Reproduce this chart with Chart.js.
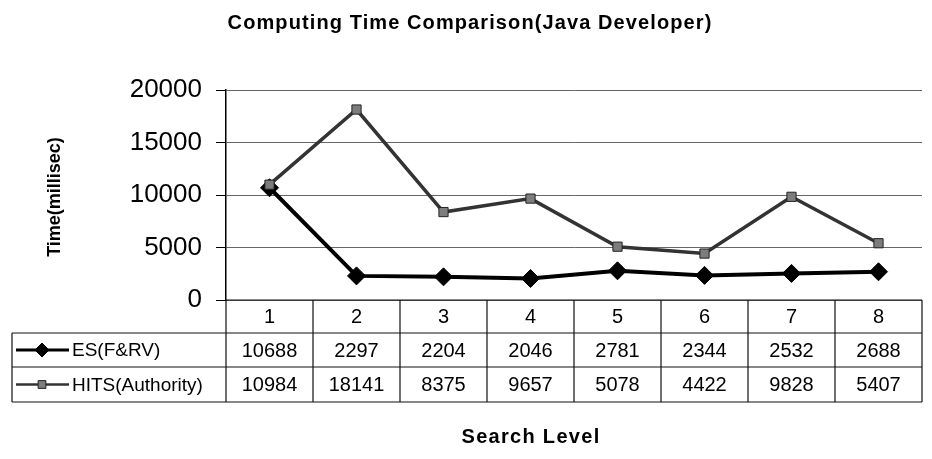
<!DOCTYPE html>
<html lang="en">
<head>
  <meta charset="UTF-8">
  <title>Computing Time Comparison</title>
  <script src="https://cdn.jsdelivr.net/npm/chart.js"></script>
  <style>
    body { margin: 0; background: #fff; }
    #wrap { width: 932px; height: 459px; }
  </style>
</head>
<body>
  <div id="wrap"><canvas id="timeChart" width="932" height="459"></canvas></div>

  <script>
    const categories = ['1', '2', '3', '4', '5', '6', '7', '8'];
    const esValues = [10688, 2297, 2204, 2046, 2781, 2344, 2532, 2688];
    const hitsValues = [10984, 18141, 8375, 9657, 5078, 4422, 9828, 5407];
    const seriesNames = ['ES(F&RV)', 'HITS(Authority)'];
    const yTicks = [0, 5000, 10000, 15000, 20000];

    const chartTitle = 'Computing Time Comparison(Java Developer)';
    const yTitle = 'Time(millisec)';
    const xTitle = 'Search Level';

    const FONT = '"Liberation Sans", Arial, sans-serif';

    // series styles (also used for the legend keys in the table)
    const styles = [
      { line: '#000', width: 4, point: 'rectRot', radius: 9, fill: '#000', border: '#000' },
      { line: '#333', width: 3.5, point: 'rect', radius: 6.5, fill: '#7d7d7d', border: '#222' }
    ];

    // table rows under the plot (pixel rows)
    const rowLines = [300, 333, 367, 402];
    const legendLeft = 12;

    const tablePlugin = {
      id: 'dataTable',
      afterDraw(chart) {
        const ctx = chart.ctx;
        const xs = chart.scales.x;
        const area = chart.chartArea;
        const right = area.right;
        ctx.save();

        // titles
        ctx.fillStyle = '#000';
        ctx.textBaseline = 'middle';
        ctx.textAlign = 'center';
        ctx.font = 'bold 20px ' + FONT;
        ctx.letterSpacing = '1.1px';
        ctx.fillText(chartTitle, 470, 23);
        ctx.letterSpacing = '1.3px';
        ctx.fillText(xTitle, 531, 437);
        ctx.save();
        ctx.translate(55, 197);
        ctx.rotate(-Math.PI / 2);
        ctx.font = 'bold 18px ' + FONT;
        ctx.letterSpacing = '0px';
        ctx.fillText(yTitle, 0, 0);
        ctx.restore();
        ctx.letterSpacing = '0px';

        // grid of the table
        ctx.strokeStyle = '#111';
        ctx.lineWidth = 1.2;
        ctx.beginPath();
        ctx.moveTo(area.left, rowLines[0]); ctx.lineTo(right, rowLines[0]);
        for (let r = 1; r < rowLines.length; r++) {
          ctx.moveTo(legendLeft, rowLines[r]); ctx.lineTo(right, rowLines[r]);
        }
        ctx.moveTo(legendLeft, rowLines[1]); ctx.lineTo(legendLeft, rowLines[3]);
        for (let i = 0; i <= categories.length; i++) {
          const x = xs.getPixelForValue(i + 0.5);
          ctx.moveTo(x, rowLines[0]); ctx.lineTo(x, rowLines[3]);
        }
        ctx.stroke();

        // category labels and values
        ctx.font = '20px ' + FONT;
        const rowMid = r => (rowLines[r] + rowLines[r + 1]) / 2 + 1;
        categories.forEach((c, i) => {
          const x = xs.getPixelForValue(i + 1);
          ctx.fillText(c, x, rowMid(0));
          ctx.fillText(String(esValues[i]), x, rowMid(1));
          ctx.fillText(String(hitsValues[i]), x, rowMid(2));
        });

        // legend keys
        seriesNames.forEach((name, s) => {
          const y = rowMid(s + 1) - 1;
          const st = styles[s];
          ctx.strokeStyle = st.line;
          ctx.lineWidth = s === 0 ? 3 : 2.5;
          ctx.beginPath();
          ctx.moveTo(16, y); ctx.lineTo(69, y);
          ctx.stroke();
          ctx.fillStyle = st.fill;
          ctx.strokeStyle = st.border;
          ctx.lineWidth = 1;
          Chart.helpers.drawPoint(ctx, { pointStyle: st.point, radius: s === 0 ? 7 : 5.5, rotation: 0, borderWidth: 1 }, 42, y);
          ctx.fillStyle = '#000';
          ctx.textAlign = 'left';
          ctx.font = '19px ' + FONT;
          ctx.fillText(name, 72, y + 1);
          ctx.textAlign = 'center';
        });

        ctx.restore();
      }
    };

    const seriesData = [esValues, hitsValues];

    new Chart(document.getElementById('timeChart'), {
      type: 'line',
      data: {
        datasets: seriesNames.map((name, s) => ({
          label: name,
          data: seriesData[s].map((v, i) => ({ x: i + 1, y: v })),
          borderColor: styles[s].line,
          borderWidth: styles[s].width,
          pointStyle: styles[s].point,
          pointRadius: styles[s].radius,
          pointBackgroundColor: styles[s].fill,
          pointBorderColor: styles[s].border,
          pointBorderWidth: 1,
          tension: 0,
          clip: false,
          order: 1 - s
        }))
      },
      options: {
        responsive: false,
        animation: false,
        devicePixelRatio: 1,
        layout: { padding: { top: 90, bottom: 159, left: 0, right: 9 } },
        plugins: {
          legend: { display: false },
          title: { display: false },
          tooltip: { enabled: false }
        },
        scales: {
          x: {
            type: 'linear',
            min: 0.5,
            max: 8.5,
            display: false
          },
          y: {
            min: 0,
            max: 20000,
            afterBuildTicks: scale => { scale.ticks = yTicks.map(v => ({ value: v })); },
            afterFit: scale => { scale.width = 226; },
            ticks: {
              color: '#000',
              padding: 14,
              font: { family: FONT, size: 26 },
              callback: v => String(v)
            },
            grid: {
              color: '#666',
              lineWidth: 1,
              tickLength: 10,
              tickColor: '#000'
            },
            border: { display: true, color: '#000', width: 1.5 }
          }
        }
      },
      plugins: [tablePlugin]
    });
  </script>
</body>
</html>
